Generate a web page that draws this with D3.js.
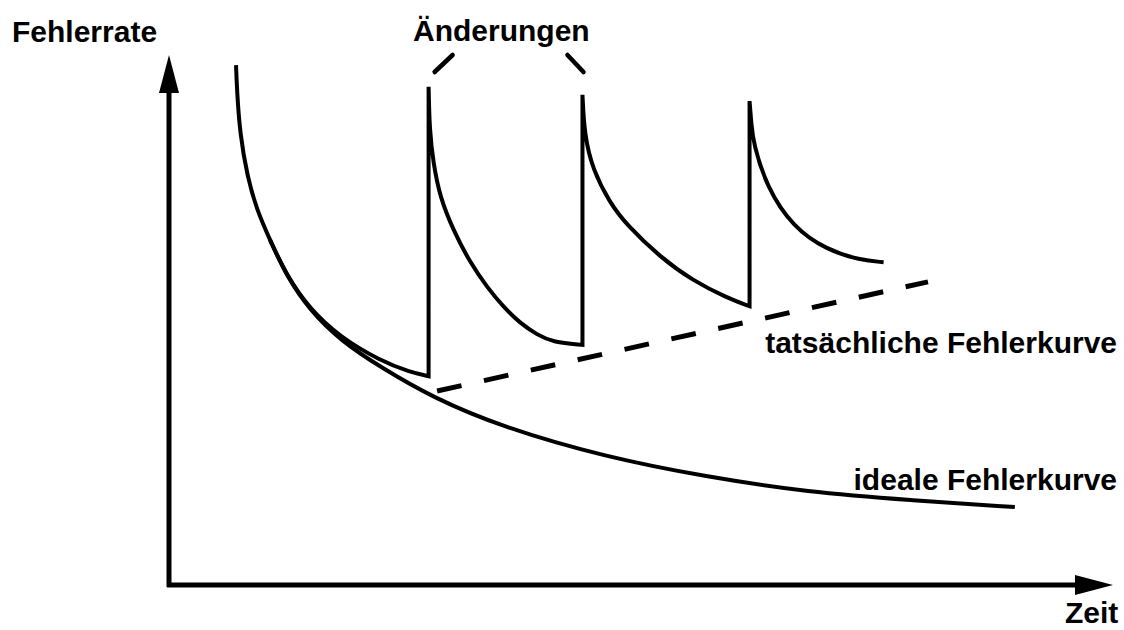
<!DOCTYPE html>
<html>
<head>
<meta charset="utf-8">
<script src="https://cdn.jsdelivr.net/npm/d3@7"></script>
<style>
  body { margin: 0; background: #fff; }
  text { font-family: "Liberation Sans", Arial, Helvetica, sans-serif; font-weight: bold; font-size: 30px; fill: #000; }
</style>
</head>
<body>
<div id="chart"></div>
<script>
// schematic values: time 0..100, error rate 0..100
const idealCurve = [
  [7.1, 98.1], [7.2, 93.4], [7.5, 85.3], [8.3, 77.0], [9.3, 70.8], [10.7, 65.1],
  [12.5, 58.1], [14.9, 51.9], [18.1, 46.2], [22.4, 41.1], [28.0, 35.3], [35.3, 29.8],
  [46.1, 24.2], [56.9, 20.4], [67.7, 17.5], [78.5, 16.0], [89.6, 14.7]
];
// actual error curve, one decay segment per change
const actualSegments = [
  [[10.7, 65.1], [12.5, 58.3], [14.9, 52.1], [18.1, 46.8], [22.4, 42.3], [25.5, 40.2], [27.5, 39.4]],
  [[27.5, 94.0], [27.6, 85.8], [28.0, 79.6], [28.7, 73.2], [30.1, 67.0], [31.9, 60.8], [33.7, 56.2],
   [35.4, 52.5], [37.2, 49.4], [39.0, 47.2], [40.7, 45.8], [43.8, 45.3]],
  [[43.8, 92.5], [44.0, 84.9], [44.9, 78.3], [46.7, 72.1], [48.5, 67.9], [52.0, 61.9], [55.5, 57.4],
   [59.1, 54.2], [61.5, 52.6]],
  [[61.5, 91.3], [61.7, 86.8], [61.9, 83.4], [63.3, 75.1], [66.1, 67.5], [69.7, 63.2], [73.2, 61.3],
   [75.7, 60.9]]
];
const trendLine = [[28.4, 36.6], [80.4, 57.2]];
const changeTimes = [27.5, 43.8];
const labels = {
  yAxis: 'Fehlerrate', xAxis: 'Zeit', changes: 'Änderungen',
  actual: 'tatsächliche Fehlerkurve', ideal: 'ideale Fehlerkurve'
};

const width = 1124, height = 630;
const svg = d3.select('#chart')
  .append('svg')
  .attr('width', width)
  .attr('height', height);

const x = d3.scaleLinear().domain([0, 100]).range([169, 1113]);
const y = d3.scaleLinear().domain([0, 100]).range([585, 55]);

// axes with arrowheads
const arrow = 38, half = 10;
svg.append('line')
  .attr('x1', x(0)).attr('y1', y(0) + 2)
  .attr('x2', x(0)).attr('y2', y(100) + arrow - 2)
  .attr('stroke', '#000').attr('stroke-width', 5);
svg.append('line')
  .attr('x1', x(0) - 2).attr('y1', y(0))
  .attr('x2', x(100) - arrow + 2).attr('y2', y(0))
  .attr('stroke', '#000').attr('stroke-width', 5);
svg.append('path')
  .attr('d', `M${x(0)},${y(100)}L${x(0) - half},${y(100) + arrow}L${x(0) + half},${y(100) + arrow}Z`)
  .attr('fill', '#000');
svg.append('path')
  .attr('d', `M${x(100)},${y(0)}L${x(100) - arrow},${y(0) - half}L${x(100) - arrow},${y(0) + half}Z`)
  .attr('fill', '#000');

const line = d3.line()
  .x(d => x(d[0]))
  .y(d => y(d[1]))
  .curve(d3.curveBasis);

// ideal curve
svg.append('path')
  .datum(idealCurve)
  .attr('d', line)
  .attr('fill', 'none')
  .attr('stroke', '#000')
  .attr('stroke-width', 4);

// actual curve: decay segments joined by vertical jumps
const actualPath = actualSegments.map((seg, i) => {
  const p = line(seg);
  return i === 0 ? p : p.replace(/^M/, 'L');
}).join('');
svg.append('path')
  .attr('d', actualPath)
  .attr('fill', 'none')
  .attr('stroke', '#000')
  .attr('stroke-width', 4)
  .attr('stroke-linejoin', 'miter');

// dashed trend
svg.append('line')
  .attr('x1', x(trendLine[0][0])).attr('y1', y(trendLine[0][1]))
  .attr('x2', x(trendLine[1][0])).attr('y2', y(trendLine[1][1]))
  .attr('stroke', '#000')
  .attr('stroke-width', 5)
  .attr('stroke-dasharray', '25,23');

// "Änderungen" pointer ticks
svg.selectAll('.tick-mark')
  .data(changeTimes)
  .join('line')
  .attr('class', 'tick-mark')
  .attr('x1', (d, i) => x(d) + (i === 0 ? 6 : -15))
  .attr('y1', (d, i) => i === 0 ? 72 : 55)
  .attr('x2', (d, i) => x(d) + (i === 0 ? 24 : 1))
  .attr('y2', (d, i) => i === 0 ? 55 : 72)
  .attr('stroke', '#000')
  .attr('stroke-width', 4.5)
  .attr('stroke-linecap', 'round');

// labels
svg.append('text').attr('x', 12).attr('y', 42).text(labels.yAxis);
svg.append('text').attr('x', 413).attr('y', 41).text(labels.changes);
svg.append('text').attr('x', 1065).attr('y', 623).text(labels.xAxis);
svg.append('text').attr('x', 1117).attr('y', 353).attr('text-anchor', 'end').text(labels.actual);
svg.append('text').attr('x', 1117).attr('y', 490).attr('text-anchor', 'end').text(labels.ideal);
</script>
</body>
</html>
